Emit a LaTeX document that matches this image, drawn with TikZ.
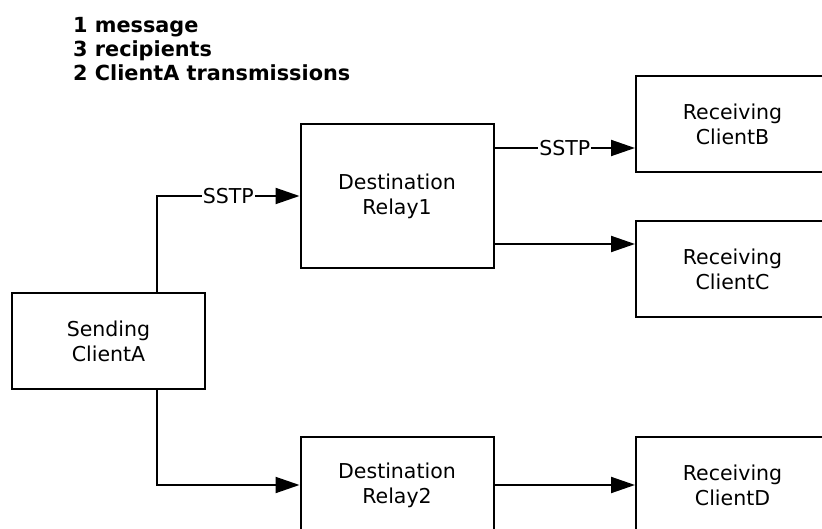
\documentclass[tikz,border=0pt]{standalone}
\usepackage{fontspec}
\setmainfont{DejaVu Sans}
\usepackage{tikz}
\usetikzlibrary{arrows.meta}

\begin{document}
\begin{tikzpicture}[x=1pt, y=-1pt,
    box/.style={draw, line width=2pt, align=center, minimum width=193pt,
                minimum height=96pt, inner sep=0pt, font=\fontsize{20.5}{25}\selectfont},
    flow/.style={line width=2pt, -{Triangle[length=24pt, width=16pt]}},
    lbl/.style={fill=white, inner sep=1pt, font=\fontsize{20.5}{25}\selectfont}]
    \useasboundingbox (0,0) rectangle (822,529);
    \clip (0,0) rectangle (822,529);

    \node [anchor=north west, align=left, inner sep=0pt,
           font=\bfseries\fontsize{20.8}{24}\selectfont] (summary) at (73,17)
          {1 message\\3 recipients\\2 ClientA transmissions};

    \node [box] (clientA) at (108.5,341) {Sending\\ClientA};
    \node [box, minimum height=144pt] (relay1) at (397,196) {Destination\\Relay1};
    \node [box] (relay2) at (397,485) {Destination\\Relay2};
    \node [box] (clientB) at (732.5,124) {Receiving\\ClientB};
    \node [box] (clientC) at (732.5,269) {Receiving\\ClientC};
    \node [box] (clientD) at (732.5,485) {Receiving\\ClientD};

    \coordinate (upA) at ([xshift=48.5pt]clientA.north);
    \coordinate (downA) at ([xshift=48.5pt]clientA.south);
    \coordinate (outB) at ([yshift=48pt]relay1.east);
    \coordinate (outC) at ([yshift=-48pt]relay1.east);

    % Now draw the lines:
    \draw [flow] (upA) |- node [lbl, pos=0.75] {SSTP} (relay1.west);
    \draw [flow] (downA) |- (relay2.west);
    \draw [flow] (outB) -- node [lbl] {SSTP} (outB -| clientB.west);
    \draw [flow] (outC) -- (outC -| clientC.west);
    \draw [flow] (relay2) -- (clientD);
\end{tikzpicture}
\end{document}
